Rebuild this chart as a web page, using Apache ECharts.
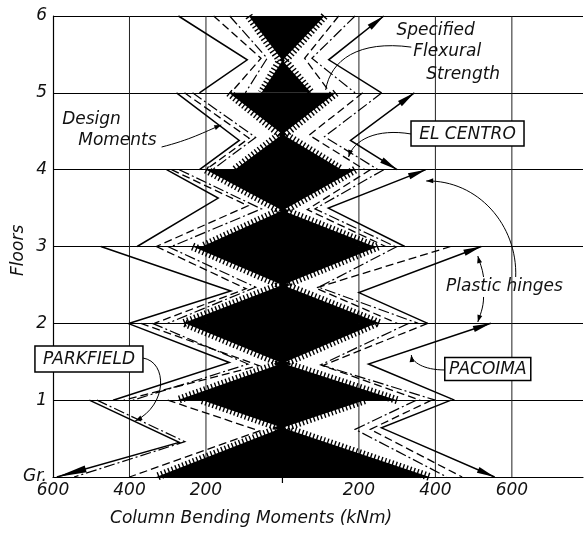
<!DOCTYPE html>
<html><head><meta charset="utf-8">
<script src="https://cdn.jsdelivr.net/npm/echarts@6/dist/echarts.min.js"></script>
<style>html,body{margin:0;padding:0;background:#fff}#c{width:586px;height:534px}</style>
</head><body><div id="c"></div>
<script>
// ---------- data ----------
const floorLabels = ['Gr.', '1', '2', '3', '4', '5', '6'];
const xTickValues = [-600, -400, -200, 0, 200, 400, 600];
const gridX = [-400, -200, 200, 400, 600];
// storey index i = storey between floor i and floor i+1
// row: [moment at upper floor, moment at bend, height of bend (floors), moment at lower floor]  kNm, left side negative
const designLeft  = [[-210,-6,0.64,-330],[-255,-6,1.48,-275],[-235,-6,2.50,-260],[-200,-6,3.47,-210],[-140,-6,4.46,-125],[-88,-6,5.42,-55]];
const designRight = [[215,6,0.64,385],[245,6,1.48,300],[250,6,2.50,255],[190,6,3.47,240],[140,6,4.46,155],[110,6,5.42,75]];
const dashDotLeft = [[-485,-255,0.46,-545],[-340,-90,1.47,-391],[-300,-70,2.47,-300],[-270,-55,3.49,-290],[-235,-70,4.42,-183],[-138,-40,5.45,-97]];
const dashedLeft  = [[-300,-60,0.60,-400],[-370,-61,1.45,-415],[-330,-95,2.45,-335],[-290,-90,3.53,-330],[-256,-87,4.41,-200],[-180,-56,5.45,-135]];
const solidLeft   = [[-505,-270,0.45,-590],[-404,-139,1.49,-443],[-475,-135,2.42,-400],[-303,-168,3.63,-380],[-277,-113,4.38,-217],[-272,-92,5.43,-217]];
const dashedRight = [[390,230,0.62,470],[380,105,1.45,360],[440,87,2.46,300],[230,65,3.48,270],[210,70,4.45,215],[147,58,5.45,125]];
const dashDotRight= [[350,190,0.62,430],[330,100,1.46,400],[300,95,2.47,355],[265,85,3.49,295],[260,110,4.43,250],[190,77,5.45,190]];
const solidRight  = [[441,259,0.64,555],[545,225,1.47,450],[520,200,2.40,380],[375,120,3.50,320],[345,178,4.38,300],[265,121,5.43,259]];
// plastic hinges: [side (0 left, 1 right), storey, end (1 upper floor, 0 lower floor)]
const hinges = [[1,5,1],[1,4,1],[1,4,0],[1,3,1],[1,2,1],[1,1,1],[1,0,0],[0,0,0]];

// ---------- helpers ----------
const FONT_FAMILY = '"DejaVu Sans", sans-serif';
function zigzag(rows, style, z) {
  return {
    type: 'custom', coordinateSystem: 'cartesian2d', silent: true, z: z,
    data: rows.map((r, i) => [i, r[0], r[1], r[2], r[3]]),
    encode: { x: [1, 2, 4], y: 3 },
    renderItem: function (params, api) {
      const s = api.value(0);
      const pts = [api.coord([api.value(1), s + 1]), api.coord([api.value(2), api.value(3)]), api.coord([api.value(4), s])];
      return { type: 'polyline', shape: { points: pts }, style: Object.assign({ fill: null, stroke: '#000' }, style) };
    }
  };
}
const blackData = designLeft.map((r, i) => [i, r[0], designRight[i][0], r[2], r[3], designRight[i][3]]);

const series = [
  { // vertical grid lines
    type: 'custom', coordinateSystem: 'cartesian2d', silent: true, z: 1,
    data: gridX.map(v => [v, 0]), encode: { x: 0, y: 1 },
    renderItem: function (params, api) {
      const a = api.coord([api.value(0), 0]), b = api.coord([api.value(0), 6]);
      return { type: 'line', shape: { x1: a[0], y1: a[1], x2: b[0], y2: b[1] }, style: { stroke: '#222', lineWidth: 1 } };
    }
  },
  { // black moment fields
    type: 'custom', coordinateSystem: 'cartesian2d', silent: true, z: 2,
    data: blackData, encode: { x: [1, 2], y: 3 },
    renderItem: function (params, api) {
      const s = api.value(0), py = api.value(3);
      const pin = api.coord([0, py]);
      return { type: 'group', children: [
        { type: 'polygon', shape: { points: [api.coord([api.value(1), s + 1]), api.coord([api.value(2), s + 1]), pin] }, style: { fill: '#000' } },
        { type: 'polygon', shape: { points: [pin, api.coord([api.value(5), s]), api.coord([api.value(4), s])] }, style: { fill: '#000' } }
      ] };
    }
  },
  zigzag(designLeft, { lineWidth: 8, lineDash: [1.4, 2.4] }, 3),
  zigzag(designRight, { lineWidth: 8, lineDash: [1.4, 2.4] }, 3),
  zigzag(dashDotLeft, { lineWidth: 1.2, lineDash: [11, 3, 2, 3] }, 4),
  zigzag(dashDotRight, { lineWidth: 1.2, lineDash: [11, 3, 2, 3] }, 4),
  zigzag(dashedLeft, { lineWidth: 1.3, lineDash: [8, 4] }, 4),
  zigzag(dashedRight, { lineWidth: 1.3, lineDash: [8, 4] }, 4),
  zigzag(solidLeft, { lineWidth: 1.5 }, 4),
  zigzag(solidRight, { lineWidth: 1.5 }, 4),
  { // plastic hinge wedges
    type: 'custom', coordinateSystem: 'cartesian2d', silent: true, z: 5,
    data: hinges, encode: { x: 0, y: 1 },
    renderItem: function (params, api) {
      const side = api.value(0), s = api.value(1), end = api.value(2);
      const row = (side ? solidRight : solidLeft)[s];
      const tip = api.coord([end ? row[0] : row[3], end ? s + 1 : s]);
      const from = api.coord([row[1], row[2]]);
      let dx = tip[0] - from[0], dy = tip[1] - from[1];
      const L = Math.hypot(dx, dy); dx /= L; dy /= L;
      const len = side ? 18 : 30, hw = side ? 3.2 : 3.6;
      const bx = tip[0] - dx * len, by = tip[1] - dy * len;
      return { type: 'polygon', shape: { points: [tip, [bx - dy * hw, by + dx * hw], [bx + dy * hw, by - dx * hw]] }, style: { fill: '#000' } };
    }
  }
];

const labelStyle = { fontFamily: FONT_FAMILY, fontStyle: 'italic', fontSize: 17, color: '#111' };
const option = {
  animation: false,
  backgroundColor: '#fff',
  grid: { left: 53, right: 0, top: 16, bottom: 57 },
  xAxis: {
    type: 'value', min: -600, max: 786, interval: 200,
    axisLine: { show: true, lineStyle: { color: '#000', width: 1.2 } },
    axisTick: { show: false }, splitLine: { show: false },
    axisLabel: Object.assign({ margin: 5, formatter: v => (xTickValues.indexOf(v) < 0 || v === 0) ? '' : String(Math.abs(v)) }, labelStyle)
  },
  yAxis: {
    type: 'value', min: 0, max: 6, interval: 1,
    axisLine: { show: true, onZero: false, lineStyle: { color: '#000', width: 1.2 } },
    axisTick: { show: false },
    splitLine: { show: true, lineStyle: { color: '#000', width: 1.2 } },
    axisLabel: Object.assign({ margin: 6, formatter: v => floorLabels[v] }, labelStyle)
  },
  series: series
};

const chart = echarts.init(document.getElementById('c'));
chart.setOption(option);

// ---------- annotations ----------
const P = (x, y) => chart.convertToPixel({ gridIndex: 0 }, [x, y]);
const FONT = 'italic 17px ' + FONT_FAMILY;
const g = [];
function text(x, y, s, align, rot) {
  const p = P(x, y);
  g.push({ type: 'text', x: p[0], y: p[1], rotation: rot || 0, z: 100,
    style: { text: s, font: FONT, fill: '#111', textAlign: align || 'left', textVerticalAlign: 'middle' } });
}
function box(x, y, w, h, s) {
  const p = P(x, y);
  g.push({ type: 'rect', z: 99, shape: { x: p[0] - w / 2, y: p[1] - h / 2, width: w, height: h }, style: { fill: '#fff', stroke: '#000', lineWidth: 1.5 } });
  g.push({ type: 'text', x: p[0], y: p[1] + 1, z: 100, style: { text: s, font: FONT, fill: '#111', textAlign: 'center', textVerticalAlign: 'middle' } });
}
function curve(a, c1, c2, b, head) {
  const A = P(a[0], a[1]), C1 = P(c1[0], c1[1]), C2 = P(c2[0], c2[1]), B = P(b[0], b[1]);
  g.push({ type: 'bezierCurve', z: 98, shape: { x1: A[0], y1: A[1], cpx1: C1[0], cpy1: C1[1], cpx2: C2[0], cpy2: C2[1], x2: B[0], y2: B[1] },
    style: { stroke: '#000', lineWidth: 1, fill: null } });
  if (head) {
    let dx = B[0] - C2[0], dy = B[1] - C2[1]; const L = Math.hypot(dx, dy) || 1; dx /= L; dy /= L;
    const bx = B[0] - dx * 7, by = B[1] - dy * 7;
    g.push({ type: 'polygon', z: 98, shape: { points: [B, [bx - dy * 2.5, by + dx * 2.5], [bx + dy * 2.5, by - dx * 2.5]] }, style: { fill: '#000' } });
  }
}
text(298, 5.805, 'Specified');
text(342, 5.532, 'Flexural');
text(376, 5.232, 'Strength');
curve([337, 5.595], [199, 5.688], [126, 5.428], [113, 5.037], false);
text(-576, 4.647, 'Design');
text(-534, 4.374, 'Moments');
curve([-316, 4.295], [-243, 4.386], [-204, 4.49], [-160, 4.582], true);
box(484, 4.471, 113, 25, 'EL CENTRO');
curve([337, 4.464], [246, 4.542], [186, 4.386], [173, 4.165], true);
text(428, 2.473, 'Plastic hinges');
curve([610, 2.603], [615, 3.28], [511, 3.866], [376, 3.853], true);
curve([526, 2.603], [523, 2.72], [515, 2.8], [511, 2.876], true);
curve([526, 2.343], [526, 2.2], [516, 2.1], [511, 2.017], true);
box(537, 1.406, 86, 23, 'PACOIMA');
curve([425, 1.393], [368, 1.393], [339, 1.497], [337, 1.588], true);
box(-506, 1.536, 108, 26, 'PARKFIELD');
curve([-365, 1.549], [-300, 1.497], [-300, 0.937], [-385, 0.73], true);
text(-82, -0.547, 'Column Bending Moments (kNm)', 'center');
text(-690, 2.95, 'Floors', 'center', Math.PI / 2);
const t0 = P(0, 0);
g.push({ type: 'line', z: 98, shape: { x1: t0[0], y1: t0[1], x2: t0[0], y2: t0[1] + 6 }, style: { stroke: '#000', lineWidth: 1.2 } });
chart.setOption({ graphic: g });
</script></body></html>
